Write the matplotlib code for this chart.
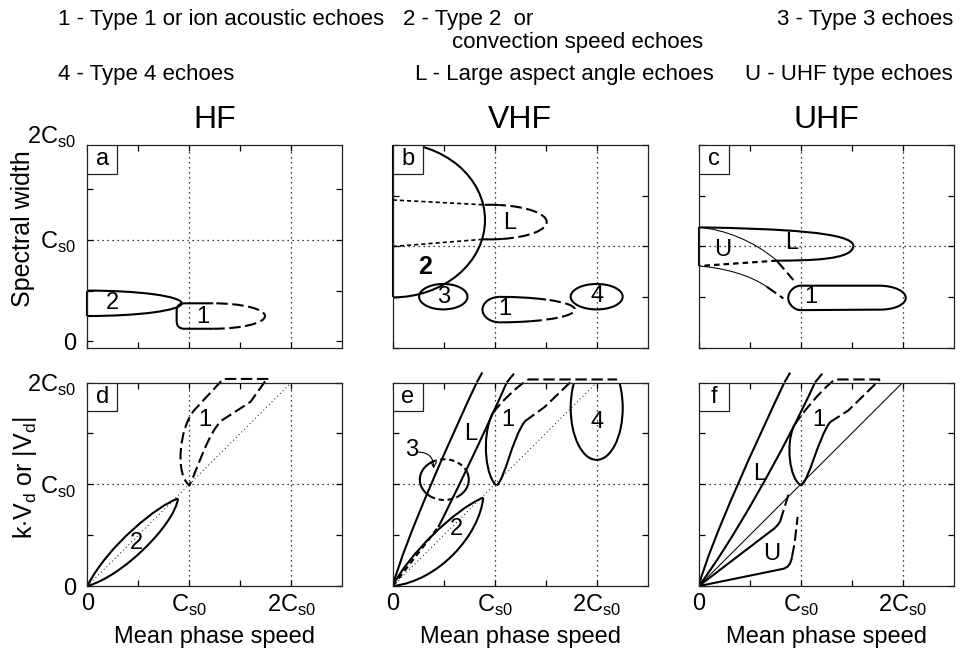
import numpy as np
import matplotlib
matplotlib.use('Agg')
import matplotlib.pyplot as plt
from matplotlib.path import Path
from matplotlib.patches import PathPatch, Arc, Rectangle
from matplotlib.transforms import blended_transform_factory

plt.rcParams['font.family'] = ['Liberation Sans', 'DejaVu Sans']
plt.rcParams['mathtext.fontset'] = 'custom'
plt.rcParams['mathtext.rm'] = 'Liberation Sans'

# ---- texts
legend_lines = ['1 - Type 1 or ion acoustic echoes', '2 - Type 2  or', 'convection speed echoes',
                '3 - Type 3 echoes', '4 - Type 4 echoes', 'L - Large aspect angle echoes',
                'U - UHF type echoes']
columns = ['HF', 'VHF', 'UHF']
letters = ['a', 'b', 'c', 'd', 'e', 'f']
tick_vals = [0, 1, 2]
tick_text = ['0', 'C$_\\mathregular{s0}$', '2C$_\\mathregular{s0}$']
minor_vals = [0.5, 1.5]
grid_x = [1, 2]
grid_y = [1]
diag = [(0, 0), (2, 2)]

# ---- panel a (HF, spectral width)
a_t2_edge = [(0, 0.25), (0, 0.50)]
a_t2_arc = (0.0, 0.375, 0.925, 0.125)
a_t1_left = [(1.235, 0.375), (0.95, 0.375), (0.876, 0.375), (0.876, 0.30),
             (0.876, 0.20), (0.876, 0.125), (0.95, 0.125), (1.235, 0.125)]
a_t1_arc = (1.235, 0.25, 0.507, 0.125)
a_labels = [('2', 0.25, 0.38), ('1', 1.13, 0.245)]

# ---- panel b (VHF, spectral width)
b_t2_edge = [(0, 0.5), (0, 2.0)]
b_t2_arc = (0.0, 1.26, 0.905, 0.76)
b_L_in_top = [(0, 1.457), (0.89, 1.41)]
b_L_in_bot = [(0, 1.0), (0.877, 1.07)]
b_L_arc = (0.95, 1.24, 0.56, 0.17)
b_t3 = (0.496, 0.507, 0.237, 0.125)
b_t4 = (2.0, 0.507, 0.255, 0.125)
b_t1_left = (1.05, 0.38, 0.17, 0.125)
b_t1_right = (1.05, 0.38, 0.737, 0.125)
b_labels = [('L', 1.15, 1.228), ('3', 0.496, 0.507), ('1', 1.10, 0.383), ('4', 2.0, 0.51)]

# ---- panel c (UHF, spectral width)
c_L_edge = [(0, 0.808), (0, 1.188)]
c_L_top = [(0, 1.188), (0.8, 1.175), (1.52, 1.14), (1.516, 1.005)]
c_L_bot = [(1.516, 1.005), (1.51, 0.87), (1.1, 0.862), (0.765, 0.861)]
c_L_dash = [(0.765, 0.861), (0, 0.808)]
c_U_top = [(0, 1.188), (0.25, 1.17), (0.55, 1.05), (0.765, 0.861)]
c_U_top_dash = [(0.765, 0.861), (0.928, 0.671)]
c_U_bot = [(0, 0.808), (0.25, 0.79), (0.5, 0.72), (0.667, 0.605)]
c_U_bot_dash = [(0.667, 0.605), (0.83, 0.49)]
c_t1 = [(1.78, 0.615), (1.0, 0.615), (0.94, 0.615), (0.878, 0.56), (0.878, 0.495),
        (0.878, 0.43), (0.94, 0.375), (1.0, 0.375), (1.78, 0.38), (1.92, 0.38),
        (2.03, 0.43), (2.03, 0.495), (2.03, 0.56), (1.92, 0.612), (1.78, 0.615)]
c_labels = [('L', 0.91, 1.03), ('U', 0.24, 0.966), ('1', 1.10, 0.50)]

# ---- panel d (HF, k.Vd)
d_t2_up = [(0, 0), (0.2, 0.4), (0.7, 0.8), (0.89, 0.86)]
d_t2_lo = [(0, 0), (0.35, 0.1), (0.85, 0.6), (0.89, 0.86)]
d_t1 = [(1.775, 2.035), (1.333, 2.035), (1.05, 1.73), (0.90, 1.55), (0.86, 1.10),
        (1.0, 0.99), (1.07, 1.12), (1.18, 1.50), (1.318, 1.627), (1.60, 1.81), (1.76, 2.035)]
d_labels = [('2', 0.48, 0.42), ('1', 1.154, 1.627)]

# ---- panel e (VHF, k.Vd)
e_t2_up = [(0, 0), (0.15, 0.3), (0.6, 0.75), (0.888, 0.87)]
e_t2_lo = [(0, 0), (0.45, 0.05), (0.85, 0.5), (0.888, 0.87)]
e_L_in = [(0, 0), (0.447, 0.58)]
e_L_lo = [(0.447, 0.58), (0.55, 0.78), (0.9, 1.5), (1.118, 2.0)]
e_L_lo_ext = [(1.118, 2.0), (1.215, 2.12)]
e_L_up = [(0, 0), (0.12, 0.45), (0.574, 1.4675), (0.824, 2.0)]
e_L_up_ext = [(0.824, 2.0), (0.89, 2.12)]
e_t3 = (0.506, 1.046, 0.24, 0.20)
e_t1_left = [(1.02, 0.99), (0.92, 1.05), (0.86, 1.45), (0.98, 1.70)]
e_t1_top = [(0.98, 1.70), (1.06, 1.80), (1.2, 1.95), (1.33, 2.03), (2.2, 2.03)]
e_t1_right = [(1.02, 0.99), (1.1, 1.05), (1.17, 1.45), (1.297, 1.62)]
e_t1_right_dash = [(1.297, 1.62), (1.49, 1.76), (1.77, 2.03)]
e_t4 = (2.0, 1.75, 0.255, 0.51)
e_labels = [('L', 0.768, 1.497), ('1', 1.127, 1.627), ('2', 0.627, 0.56), ('4', 2.0, 1.61)]
e_t3_label = ('3', 0.186, 1.333)
e_t3_arrow = [(0.25, 1.317), (0.40, 1.154)]

# ---- panel f (UHF, k.Vd)
f_L_up = [(0, 0), (0.12, 0.45), (0.58, 1.45), (0.84, 2.0)]
f_L_up_ext = [(0.84, 2.0), (0.91, 2.12)]
f_L_lo = [(0, 0), (0.3, 0.39), (0.84, 1.34), (1.14, 2.0)]
f_L_lo_ext = [(1.14, 2.0), (1.238, 2.12)]
f_t1_left = [(1.003, 0.99), (0.89, 1.05), (0.85, 1.40), (0.935, 1.576)]
f_t1_top = [(0.935, 1.576), (1.0, 1.68), (1.2, 1.93), (1.336, 2.03), (1.777, 2.03)]
f_t1_right = [(1.003, 0.99), (1.08, 1.03), (1.17, 1.45), (1.287, 1.61)]
f_t1_right_dash = [(1.287, 1.61), (1.467, 1.725), (1.777, 2.03)]
f_U_up = [(0, 0), (0.70, 0.535), (0.77, 0.58), (0.80, 0.64)]
f_U_up_dash = [(0.80, 0.64), (0.88, 0.90)]
f_U_lo = [(0, 0), (0.82, 0.168), (0.90, 0.18), (0.915, 0.29)]
f_U_lo_dash = [(0.915, 0.29), (0.94, 0.42), (0.97, 0.68)]
f_labels = [('L', 0.60, 1.105), ('1', 1.173, 1.627), ('U', 0.716, 0.32)]

LW = 1.5
THIN = 0.75
DASH = (0, (5.5, 2.2))
SHORT = (0, (2.5, 1.8))
GRID = (0, (1, 3))
CODES = {'M': Path.MOVETO, 'L': Path.LINETO, 'Q': Path.CURVE3, 'C': Path.CURVE4}


def line(ax, pts, ls='-', lw=LW, clip=True):
    xs, ys = zip(*pts)
    ax.plot(xs, ys, color='k', lw=lw, ls=ls, clip_on=clip,
            solid_capstyle='butt', dash_capstyle='butt')


def bez(ax, pts, codes=None, ls='-', lw=LW, clip=True):
    if codes is None:
        codes = 'M' + 'C' * (len(pts) - 1)
    p = Path(pts, [CODES[c] for c in codes])
    ax.add_patch(PathPatch(p, fill=False, ec='k', lw=lw, ls=ls, clip_on=clip,
                           capstyle='butt', joinstyle='round'))


def geo(t, a, b):
    g = np.degrees(np.arctan2(b * np.sin(np.radians(t)), a * np.cos(np.radians(t))))
    return g + 360 * np.round((t - g) / 360)


def arc(ax, spec, t1, t2, ls='-', lw=LW, clip=True):
    cx, cy, a, b = spec
    ax.add_patch(Arc((cx, cy), 2 * a, 2 * b, theta1=geo(t1, a, b), theta2=geo(t2, a, b),
                     ec='k', lw=lw, ls=ls, clip_on=clip))


def labels(ax, items, **kw):
    for txt, x, y in items:
        ax.text(x, y, txt, ha='center', va='center', fontsize=17, **kw)


W, H = 965, 651
fig = plt.figure(figsize=(W / 100, H / 100), dpi=100)
lefts = [87.3, 392.7, 698.7]
tops = [144.7, 382.5]
axes = []
for r in range(2):
    for c in range(3):
        ax = fig.add_axes([lefts[c] / W, 1 - (tops[r] + 203.6) / H, 255 / W, 203.6 / H])
        ax.set_xlim(0, 2.5)
        ax.set_ylim(0, 2)
        ax.set_xticks(tick_vals)
        ax.set_xticks(minor_vals, minor=True)
        ax.set_yticks(tick_vals)
        ax.set_yticks(minor_vals, minor=True)
        ax.tick_params(which='both', direction='in', length=4, width=0.9,
                       top=True, right=True, labelsize=17)
        ax.tick_params(axis='y', pad=8)
        ax.tick_params(axis='x', pad=5)
        if r == 1:
            ax.set_xticklabels(tick_text)
        else:
            ax.set_xticklabels([])
        if c == 0:
            ax.set_yticklabels(tick_text)
        else:
            ax.set_yticklabels([])
        for s in ax.spines.values():
            s.set_linewidth(0.9)
            s.set_color('#222222')
        for gx in grid_x:
            ax.axvline(gx, color='k', lw=0.9, ls=GRID)
        for gy in grid_y:
            ax.axhline(gy, color='k', lw=0.9, ls=GRID)
        ax.add_patch(Rectangle((0, 1 - 0.142), 0.118, 0.142, transform=ax.transAxes,
                               fc='white', ec='#222222', lw=0.9, zorder=5))
        ax.text(0.059, 1 - 0.071, letters[r * 3 + c], transform=ax.transAxes,
                ha='center', va='center', fontsize=17, zorder=6)
        axes.append(ax)

ax_a, ax_b, ax_c, ax_d, ax_e, ax_f = axes

# panel a has its vertical scale shifted
ax_a.set_ylim(-0.067, 1.933)
ax_a.text(-0.045, 2.0, tick_text[2], transform=blended_transform_factory(ax_a.transAxes, ax_a.transData),
          ha='right', va='center', fontsize=17, clip_on=False)

# a
line(ax_a, a_t2_edge, clip=False)
arc(ax_a, a_t2_arc, -90, 90)
bez(ax_a, a_t1_left, 'MLQQLQQL')
arc(ax_a, a_t1_arc, -90, 90, ls=DASH)
labels(ax_a, a_labels)

# b
line(ax_b, b_t2_edge, clip=False)
arc(ax_b, b_t2_arc, -90, 90)
line(ax_b, b_L_in_top, ls=SHORT, lw=1.2)
line(ax_b, b_L_in_bot, ls=SHORT, lw=1.2)
arc(ax_b, b_L_arc, 80, 95)
arc(ax_b, b_L_arc, -97, -77)
arc(ax_b, b_L_arc, -77, 80, ls=DASH)
arc(ax_b, b_t3, 0, 360)
arc(ax_b, b_t4, 0, 360)
arc(ax_b, b_t1_left, 90, 270)
arc(ax_b, b_t1_right, 52, 90)
arc(ax_b, b_t1_right, -90, -66)
arc(ax_b, b_t1_right, -66, 52, ls=DASH)
labels(ax_b, b_labels)
ax_b.text(0.317, 0.80, '2', ha='center', va='center', fontsize=18, fontweight='bold')

# c
line(ax_c, c_L_edge, clip=False)
bez(ax_c, c_L_top)
bez(ax_c, c_L_bot)
line(ax_c, c_L_dash, ls=SHORT, lw=1.6)
bez(ax_c, c_U_top, lw=THIN)
line(ax_c, c_U_top_dash, ls=DASH)
bez(ax_c, c_U_bot, lw=THIN)
line(ax_c, c_U_bot_dash, ls=DASH)
bez(ax_c, c_t1, 'MLCCCCCCLCCCCCC')
labels(ax_c, c_labels)

# d
line(ax_d, diag, ls=GRID, lw=0.7)
bez(ax_d, d_t2_up)
bez(ax_d, d_t2_lo)
bez(ax_d, d_t1, 'MLLCCCCCCLL', ls=DASH, clip=False)
labels(ax_d, d_labels)

# e
line(ax_e, diag, ls=GRID, lw=0.7)
bez(ax_e, e_t2_up)
bez(ax_e, e_t2_lo)
line(ax_e, e_L_in, ls=SHORT, lw=1.6)
bez(ax_e, e_L_lo)
line(ax_e, e_L_lo_ext, ls=DASH, clip=False)
bez(ax_e, e_L_up)
line(ax_e, e_L_up_ext, ls=DASH, clip=False)
arc(ax_e, e_t3, 110, 235)
arc(ax_e, e_t3, -60, 20)
arc(ax_e, e_t3, 20, 110, ls=SHORT)
arc(ax_e, e_t3, 235, 300, ls=SHORT)
bez(ax_e, e_t1_left)
bez(ax_e, e_t1_top, 'MCCCL', ls=DASH, clip=False)
bez(ax_e, e_t1_right)
line(ax_e, e_t1_right_dash, ls=DASH, clip=False)
arc(ax_e, e_t4, 0, 360)
labels(ax_e, e_labels)
labels(ax_e, [e_t3_label])
ax_e.annotate('', xy=e_t3_arrow[1], xytext=e_t3_arrow[0],
              arrowprops=dict(arrowstyle='->', connectionstyle='arc3,rad=-0.5',
                              lw=0.8, color='k', shrinkA=0, shrinkB=0))

# f
line(ax_f, diag, lw=THIN)
bez(ax_f, f_L_up)
line(ax_f, f_L_up_ext, ls=DASH, clip=False)
bez(ax_f, f_L_lo)
line(ax_f, f_L_lo_ext, ls=DASH, clip=False)
bez(ax_f, f_t1_left)
bez(ax_f, f_t1_top, 'MCCCL', ls=DASH, clip=False)
bez(ax_f, f_t1_right)
line(ax_f, f_t1_right_dash, ls=DASH, clip=False)
bez(ax_f, f_U_up, 'MLQQ')
line(ax_f, f_U_up_dash, ls=DASH)
bez(ax_f, f_U_lo, 'MLQQ')
line(ax_f, f_U_lo_dash, ls=DASH)
labels(ax_f, f_labels)

# header legend
pos = [(58, 25), (403, 25), (452, 48), (777, 25), (58, 80), (415, 80), (745, 80)]
for txt, (x, y) in zip(legend_lines, pos):
    fig.text(x / W, 1 - y / H, txt, ha='left', va='baseline', fontsize=16)

for c, name in enumerate(columns):
    fig.text((lefts[c] + 127.5) / W, 1 - 128 / H, name, ha='center', va='baseline', fontsize=23)
    fig.text((lefts[c] + 127.5) / W, 1 - 643 / H, 'Mean phase speed', ha='center',
             va='baseline', fontsize=17)

fig.text(23 / W, 1 - 229 / H, 'Spectral width', rotation=90, ha='center', va='center', fontsize=18)
fig.text(25 / W, 1 - 478 / H, 'k$\\cdot$V$_\\mathregular{d}$ or |V$_\\mathregular{d}$|', rotation=90,
         ha='center', va='center', fontsize=18)

fig.savefig('out.png', dpi=100)
